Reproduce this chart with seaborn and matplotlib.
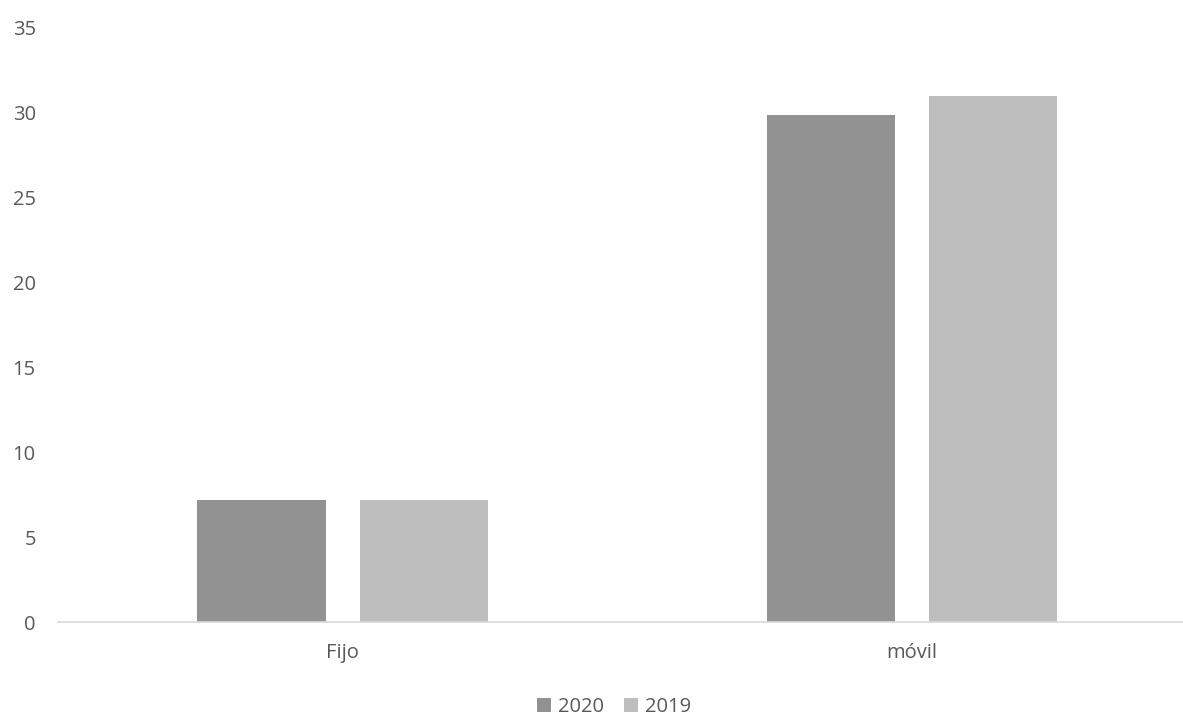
import matplotlib
matplotlib.use("Agg")
import matplotlib.pyplot as plt
import seaborn as sns
import pandas as pd

# Subscriber data per service type and year
categories = ["Fijo", "móvil"]
years = ["2020", "2019"]
values_2020 = [7.2, 29.9]
values_2019 = [7.2, 31.0]
y_ticks = [0, 5, 10, 15, 20, 25, 30, 35]

df = pd.DataFrame({
    "categoria": categories * 2,
    "anio": [years[0]] * len(categories) + [years[1]] * len(categories),
    "valor": values_2020 + values_2019,
})

sns.set_theme(style="white")
plt.rcParams["font.family"] = ["Open Sans", "DejaVu Sans"]

fig = plt.figure(figsize=(11.83, 7.17), dpi=100)
ax = fig.add_axes([58 / 1183, 95 / 717, 1138.6 / 1183, 594 / 717])

palette = {"2020": "#929292", "2019": "#BEBEBE"}
sns.barplot(data=df, x="categoria", y="valor", hue="anio", order=categories,
            hue_order=years, palette=palette, width=0.57, gap=0.21,
            saturation=1, linewidth=0, ax=ax)

ax.set_ylim(0, 35)
ax.set_yticks(y_ticks)
ax.set_yticklabels([str(t) for t in y_ticks])
ax.set_xlim(-0.5, 1.5)
ax.set_xlabel("")
ax.set_ylabel("")

for side in ["top", "right", "left"]:
    ax.spines[side].set_visible(False)
ax.spines["bottom"].set_color("#D9D9D9")
ax.spines["bottom"].set_linewidth(1.2)
ax.grid(False)

ax.tick_params(axis="y", length=0, pad=16, labelsize=14.5, labelcolor="#595959")
ax.tick_params(axis="x", length=0, pad=15, labelsize=14.5, labelcolor="#595959")

handles, labels = ax.get_legend_handles_labels()
ax.get_legend().remove()
fig.legend(handles, labels, loc="center", bbox_to_anchor=(614 / 1183, 10 / 717),
           ncol=2, frameon=False, fontsize=14.5, labelcolor="#595959",
           handlelength=0.7, handleheight=0.7, handletextpad=0.35,
           columnspacing=1.0, borderpad=0)

fig.savefig("out.png", dpi=100)
